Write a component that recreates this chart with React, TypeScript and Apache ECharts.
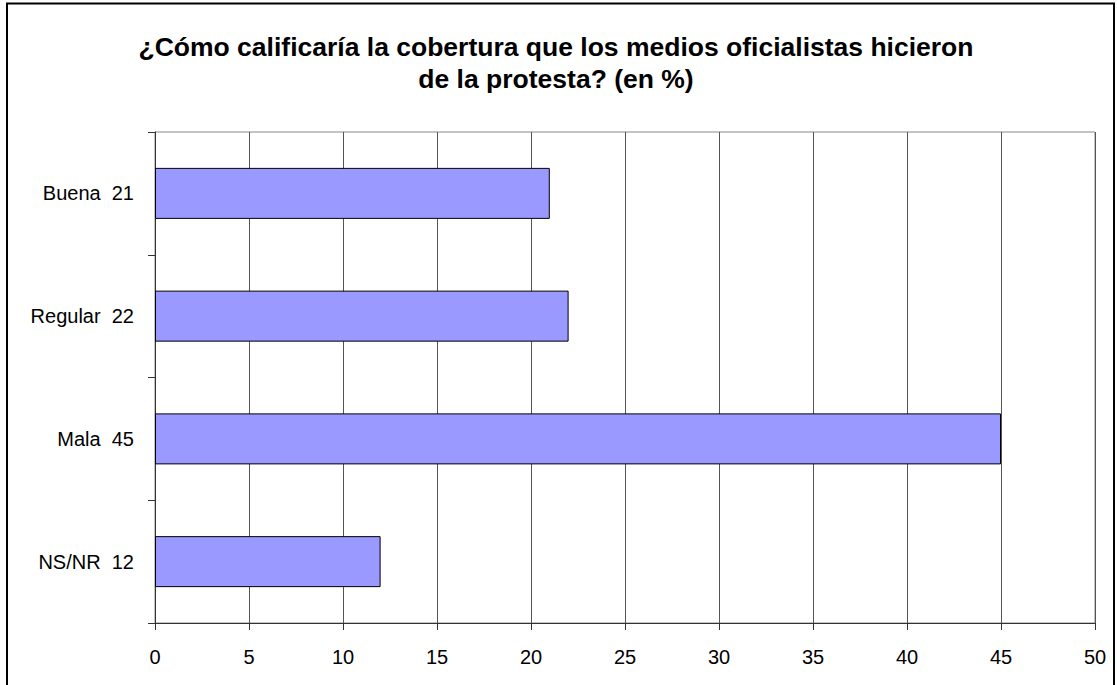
import React, { useEffect, useRef } from "react";
import * as echarts from "echarts";

const titleLines = [
  "¿Cómo calificaría la cobertura que los medios oficialistas hicieron",
  "de la protesta? (en %)",
];
const categories = ["Buena", "Regular", "Mala", "NS/NR"];
const values = [21, 22, 45, 12];
const xTicks = { min: 0, max: 50, interval: 5 };

export default function App() {
  const ref = useRef<HTMLDivElement>(null);
  useEffect(() => {
    document.body.style.margin = "0";
    const chart = echarts.init(ref.current!, null, { renderer: "svg" });
    const font = "'Liberation Sans', Arial, sans-serif";
    const titleY = [47, 79];
    chart.setOption({
      animation: false,
      backgroundColor: "#ffffff",
      graphic: [
        {
          type: "rect",
          shape: { x: 7, y: 3.5, width: 1107, height: 720 },
          style: { fill: "none", stroke: "#000", lineWidth: 2 },
          silent: true,
        },
        ...titleLines.map((t, i) => ({
          type: "text",
          x: 556,
          y: titleY[i],
          style: {
            text: t,
            fontFamily: font,
            fontWeight: "bold",
            fontSize: 26.5,
            fill: "#000",
            align: "center",
            verticalAlign: "middle",
          },
          silent: true,
        })),
      ],
      grid: {
        left: 155,
        right: 22,
        top: 132,
        bottom: 62,
        show: true,
        borderColor: "#888",
        borderWidth: 1,
        backgroundColor: "transparent",
      },
      xAxis: {
        type: "value",
        min: xTicks.min,
        max: xTicks.max,
        interval: xTicks.interval,
        axisLine: { show: true, lineStyle: { color: "#333", width: 1 } },
        axisTick: { show: true, length: 7, lineStyle: { color: "#333" } },
        axisLabel: {
          margin: 24,
          fontFamily: font,
          fontSize: 20,
          color: "#000",
        },
        splitLine: { show: true, lineStyle: { color: "#555", width: 1 } },
      },
      yAxis: {
        type: "category",
        inverse: true,
        data: categories,
        axisLine: { show: true, lineStyle: { color: "#333", width: 1 } },
        axisTick: { show: true, length: 7, lineStyle: { color: "#333" } },
        axisLabel: {
          margin: 21,
          fontFamily: font,
          fontSize: 20,
          color: "#000",
          formatter: (name: string, idx: number) => `${name}  ${values[idx]}`,
        },
        splitLine: { show: false },
      },
      series: [
        {
          type: "bar",
          data: values,
          barWidth: 51,
          itemStyle: { color: "#9999FF", borderColor: "#000", borderWidth: 1 },
        },
      ],
    });
    return () => chart.dispose();
  }, []);
  return <div ref={ref} style={{ width: 1117, height: 685 }} />;
}
